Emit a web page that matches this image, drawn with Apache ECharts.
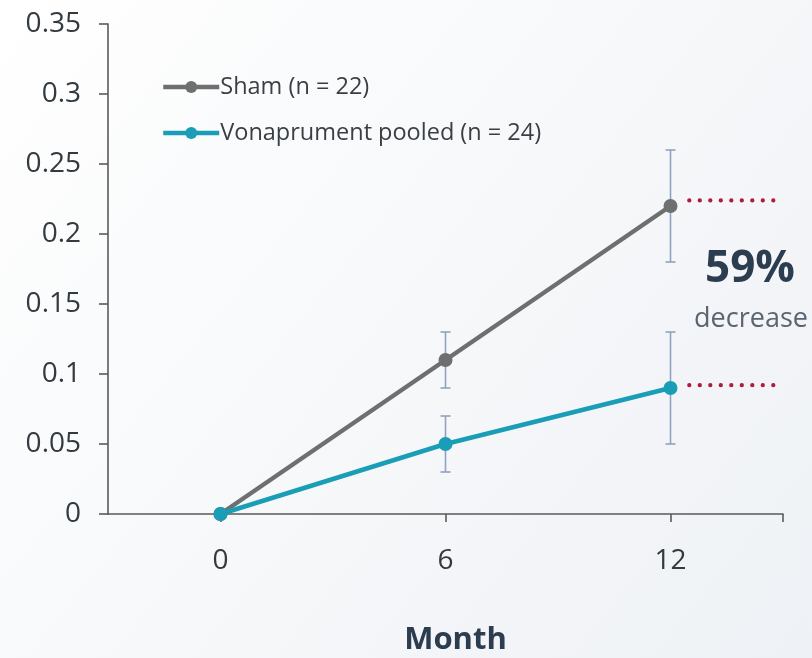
<!DOCTYPE html>
<html><head><meta charset="utf-8">
<script src="https://cdn.jsdelivr.net/npm/echarts@6/dist/echarts.min.js"></script>
<style>html,body{margin:0;padding:0}#c{width:812px;height:658px}</style>
</head><body><div id="c"></div>
<script>
const months = [0, 6, 12];
const xTickLabels = [0, 6, 12];
const shamName = 'Sham (n = 22)';
const vonaName = 'Vonaprument pooled (n = 24)';
const sham = [0, 0.11, 0.22];
const shamLow = [null, 0.09, 0.18];
const shamHigh = [null, 0.13, 0.26];
const vona = [0, 0.05, 0.09];
const vonaLow = [null, 0.03, 0.05];
const vonaHigh = [null, 0.07, 0.13];
const refX = [12.5, 15];
const refShamY = 0.224;
const refVonaY = 0.092;
const pctText = '59%';
const pctSub = 'decrease';

const FONT = '"Open Sans"';
const chart = echarts.init(document.getElementById('c'));

function errData(low, high) {
  const out = [];
  months.forEach((m, i) => { if (low[i] != null) out.push([m, low[i], high[i]]); });
  return out;
}
function errRender(params, api) {
  const x = api.value(0);
  const lo = api.coord([x, api.value(1)]);
  const hi = api.coord([x, api.value(2)]);
  const w = 5;
  const st = { stroke: '#8fa3c0', lineWidth: 1.6 };
  return { type: 'group', children: [
    { type: 'line', shape: { x1: lo[0], y1: lo[1], x2: hi[0], y2: hi[1] }, style: st },
    { type: 'line', shape: { x1: lo[0]-w, y1: lo[1], x2: lo[0]+w, y2: lo[1] }, style: st },
    { type: 'line', shape: { x1: hi[0]-w, y1: hi[1], x2: hi[0]+w, y2: hi[1] }, style: st }
  ]};
}

const option = {
  backgroundColor: new echarts.graphic.LinearGradient(0, 0, 1, 1, [
    { offset: 0, color: '#ffffff' }, { offset: 1, color: '#eef1f5' }
  ]),
  animation: false,
  textStyle: { fontFamily: FONT },
  grid: { left: 108, right: 29, top: 24, bottom: 144, containLabel: false, outerBoundsMode: 'none' },
  legend: {
    orient: 'vertical', left: 156, top: 69, itemGap: 20,
    itemWidth: 56, itemHeight: 15,
    data: [shamName, vonaName],
    lineStyle: { width: 4.5 },
    textStyle: { fontFamily: FONT, fontSize: 23.5, lineHeight: 26, color: '#3a3f44', padding: [0, 0, 0, -4] }
  },
  xAxis: {
    type: 'value', min: -3, max: 15,
    name: 'Month', nameLocation: 'middle', nameGap: 111,
    nameTextStyle: { fontFamily: FONT, fontSize: 31, fontWeight: 'bold', color: '#2d3d50', padding: [0, 0, 0, 20] },
    axisLine: { show: true, onZero: false, lineStyle: { color: '#5a5a5a', width: 1.6 } },
    axisTick: { show: true, length: 8, customValues: [0, 6, 12, 15], lineStyle: { color: '#5a5a5a', width: 1.6 } },
    axisLabel: { customValues: xTickLabels, fontSize: 28, color: '#333a40', margin: 33, fontFamily: FONT },
    splitLine: { show: false }
  },
  yAxis: {
    type: 'value', min: 0, max: 0.35, interval: 0.05,
    axisLine: { show: true, onZero: false, lineStyle: { color: '#5a5a5a', width: 1.6 } },
    axisTick: { show: true, length: 9, lineStyle: { color: '#5a5a5a', width: 1.6 } },
    axisLabel: { fontSize: 28, color: '#333a40', margin: 27, fontFamily: FONT,
      formatter: v => String(+v.toFixed(2)) },
    splitLine: { show: false }
  },
  series: [
    { type: 'custom', name: 'shamErr', renderItem: errRender, data: errData(shamLow, shamHigh), z: 1, silent: true },
    { type: 'custom', name: 'vonaErr', renderItem: errRender, data: errData(vonaLow, vonaHigh), z: 1, silent: true },
    { type: 'line', name: shamName, data: months.map((m, i) => [m, sham[i]]),
      color: '#6d706f', lineStyle: { width: 4.5, color: '#6d706f' }, symbol: 'circle', symbolSize: 14,
      itemStyle: { color: '#6d706f' }, z: 3 },
    { type: 'line', name: vonaName, data: months.map((m, i) => [m, vona[i]]),
      color: '#1a9db6', lineStyle: { width: 4.5, color: '#1a9db6' }, symbol: 'circle', symbolSize: 14,
      itemStyle: { color: '#1a9db6' }, z: 4 },
    { type: 'line', name: 'refSham', data: refX.map(x => [x, refShamY]), symbol: 'none',
      lineStyle: { color: '#b01c3c', width: 4.2, type: [0.1, 10.4], cap: 'round' }, z: 2, silent: true },
    { type: 'line', name: 'refVona', data: refX.map(x => [x, refVonaY]), symbol: 'none',
      lineStyle: { color: '#b01c3c', width: 4.2, type: [0.1, 10.4], cap: 'round' }, z: 2, silent: true }
  ],
  graphic: [
    { type: 'text', x: 750, y: 269, style: { text: pctText, fontFamily: FONT, fontSize: 44, fontWeight: 'bold', fill: '#2d3d50', align: 'center', verticalAlign: 'middle' } },
    { type: 'text', x: 751, y: 319, style: { text: pctSub, fontFamily: FONT, fontSize: 27, fill: '#5a6472', align: 'center', verticalAlign: 'middle' } }
  ]
};
chart.setOption(option);
</script>
</body></html>
